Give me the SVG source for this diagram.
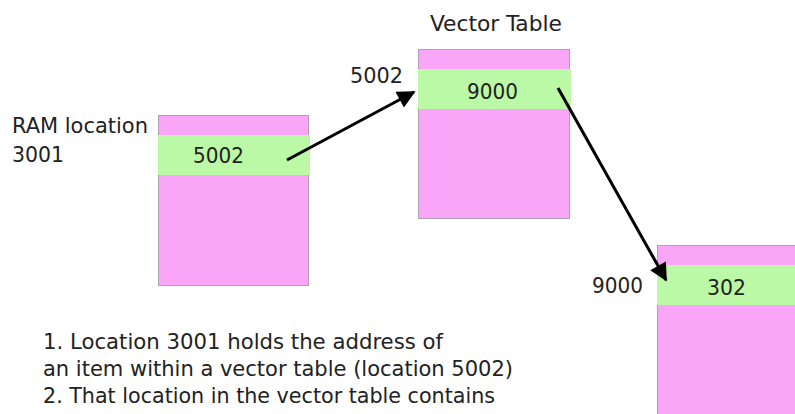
<svg xmlns="http://www.w3.org/2000/svg" width="795" height="414" viewBox="0 0 795 414">
  <defs>
    <style>
      text { font-family: "DejaVu Sans Condensed", "DejaVu Sans", sans-serif; font-size: 21px; fill: #222; }
      .mem { fill: #f9a6f9; stroke: #b0a0b0; stroke-width: 1; }
      .slot { fill: #bbf9a6; }
      .link { stroke: #000; stroke-width: 3; fill: none; marker-end: url(#head); }
    </style>
    <marker id="head" viewBox="0 0 10 10" refX="9" refY="5" markerWidth="7" markerHeight="6" orient="auto" markerUnits="strokeWidth">
      <path d="M0,0 L10,5 L0,10 Z" fill="#000"/>
    </marker>
  </defs>

  <!-- RAM block -->
  <g id="ram">
    <rect class="mem" x="158.5" y="115.5" width="150" height="170"/>
    <rect class="slot" x="158" y="135" width="152" height="40"/>
    <text x="193" y="163" textLength="51" lengthAdjust="spacingAndGlyphs">5002</text>
    <text x="12" y="133" textLength="136" lengthAdjust="spacingAndGlyphs">RAM location</text>
    <text x="12" y="162" textLength="52" lengthAdjust="spacingAndGlyphs">3001</text>
  </g>

  <!-- Vector table block -->
  <g id="vector-table">
    <rect class="mem" x="418.5" y="49.5" width="151" height="169"/>
    <rect class="slot" x="418" y="69" width="153" height="40"/>
    <text x="467" y="99" textLength="51" lengthAdjust="spacingAndGlyphs">9000</text>
    <text x="430" y="31" textLength="132" lengthAdjust="spacingAndGlyphs">Vector Table</text>
    <text x="350" y="83" textLength="53" lengthAdjust="spacingAndGlyphs">5002</text>
  </g>

  <!-- Target routine block -->
  <g id="routine">
    <rect class="mem" x="657.5" y="245.5" width="150" height="180"/>
    <rect class="slot" x="657" y="265" width="140" height="40"/>
    <text x="707" y="295" textLength="39" lengthAdjust="spacingAndGlyphs">302</text>
    <text x="592" y="293" textLength="51" lengthAdjust="spacingAndGlyphs">9000</text>
  </g>

  <!-- Pointer arrows -->
  <g id="connectors">
    <line class="link" x1="287" y1="160" x2="414" y2="92"/>
    <line class="link" x1="558" y1="88" x2="666" y2="280"/>
  </g>

  <!-- Explanation -->
  <g id="notes">
    <text x="43" y="349" textLength="400" lengthAdjust="spacingAndGlyphs">1. Location 3001 holds the address of</text>
    <text x="43" y="376" textLength="470" lengthAdjust="spacingAndGlyphs">an item within a vector table (location 5002)</text>
    <text x="43" y="403" textLength="452" lengthAdjust="spacingAndGlyphs">2. That location in the vector table contains</text>
  </g>
</svg>
